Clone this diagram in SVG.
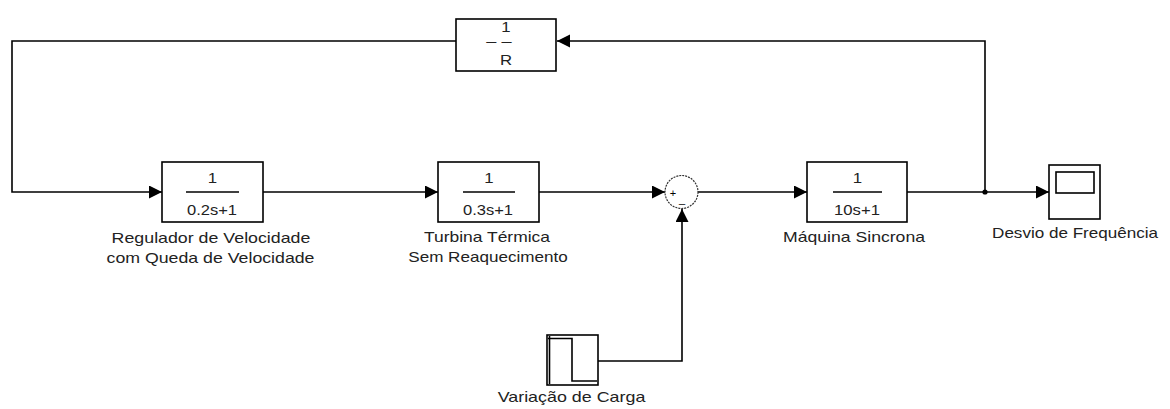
<svg xmlns="http://www.w3.org/2000/svg" width="1170" height="409" viewBox="0 0 1170 409">
<style>
.blk{fill:#fff;stroke:#000;stroke-width:1.6}
.ln{fill:none;stroke:#000;stroke-width:1.6}
.t{font-family:"Liberation Sans",Arial,sans-serif;font-size:14px;fill:#222;text-anchor:middle}
.s{font-family:"Liberation Sans",Arial,sans-serif;font-size:11px;fill:#000;text-anchor:middle}
</style>
<defs>
<marker id="arr" markerUnits="userSpaceOnUse" markerWidth="14" markerHeight="14" refX="13" refY="6.5" orient="auto">
<path d="M0,0 L13,6.5 L0,13 z" fill="#000"/>
</marker>
</defs>
<rect width="1170" height="409" fill="#fff"/>
<g id="connectors">
<polyline class="ln" points="985,192 985,41 557,41" marker-end="url(#arr)"/>
<polyline class="ln" points="456,41 12,41 12,192 162,192" marker-end="url(#arr)"/>
<line class="ln" x1="263" y1="192" x2="438" y2="192" marker-end="url(#arr)"/>
<line class="ln" x1="539" y1="192" x2="665" y2="192" marker-end="url(#arr)"/>
<line class="ln" x1="698" y1="192" x2="807" y2="192" marker-end="url(#arr)"/>
<line class="ln" x1="907" y1="192" x2="1049" y2="192" marker-end="url(#arr)"/>
<polyline class="ln" points="598,361 682,361 682,209" marker-end="url(#arr)"/>
<circle cx="985" cy="192" r="2.6" fill="#000"/>
</g>
<g id="gainR">
<rect class="blk" x="456" y="19" width="100" height="52"/>
<text class="t" transform="translate(506,32) scale(1.2,1)">1</text>
<text class="t" transform="translate(499,46) scale(1.3,1)" font-size="16">– –</text>
<text class="t" transform="translate(506,65) scale(1.2,1)">R</text>
</g>
<g id="regulador">
<rect class="blk" x="162" y="162" width="101" height="60"/>
<text class="t" transform="translate(212.5,183) scale(1.2,1)">1</text>
<line class="ln" x1="186" y1="192" x2="239" y2="192"/>
<text class="t" transform="translate(212,215) scale(1.18,1)">0.2s+1</text>
<text class="t" transform="translate(211,243) scale(1.272,1)">Regulador de Velocidade</text>
<text class="t" transform="translate(210.5,263) scale(1.267,1)">com Queda de Velocidade</text>
</g>
<g id="turbina">
<rect class="blk" x="438" y="162" width="101" height="60"/>
<text class="t" transform="translate(489,183) scale(1.2,1)">1</text>
<line class="ln" x1="463" y1="192" x2="515" y2="192"/>
<text class="t" transform="translate(488,215) scale(1.18,1)">0.3s+1</text>
<text class="t" transform="translate(487,242) scale(1.246,1)">Turbina Térmica</text>
<text class="t" transform="translate(488,262) scale(1.22,1)">Sem Reaquecimento</text>
</g>
<g id="soma">
<circle cx="681.5" cy="192" r="16.5" fill="#fff" stroke="#333" stroke-width="1.2" stroke-dasharray="2 1"/>
<text class="s" x="673" y="197">+</text>
<text class="s" x="682" y="203">_</text>
</g>
<g id="maquina">
<rect class="blk" x="807" y="162" width="100" height="60"/>
<text class="t" transform="translate(857.5,183) scale(1.2,1)">1</text>
<line class="ln" x1="833" y1="192" x2="882" y2="192"/>
<text class="t" transform="translate(857,215) scale(1.19,1)">10s+1</text>
<text class="t" transform="translate(854,242) scale(1.259,1)">Máquina Sincrona</text>
</g>
<g id="scope">
<rect class="blk" x="1049" y="165" width="51" height="54"/>
<rect class="blk" x="1056" y="172" width="38" height="21"/>
<text class="t" transform="translate(1075,238) scale(1.219,1)">Desvio de Frequência</text>
</g>
<g id="degrau">
<rect class="blk" x="547" y="335" width="51" height="50"/>
<polyline class="ln" points="548,338.5 572,338.5 572,381 597,381"/>
<line class="ln" x1="549.5" y1="336" x2="549.5" y2="384"/>
<text class="t" transform="translate(571.5,402) scale(1.277,1)">Variação de Carga</text>
</g>
</svg>
